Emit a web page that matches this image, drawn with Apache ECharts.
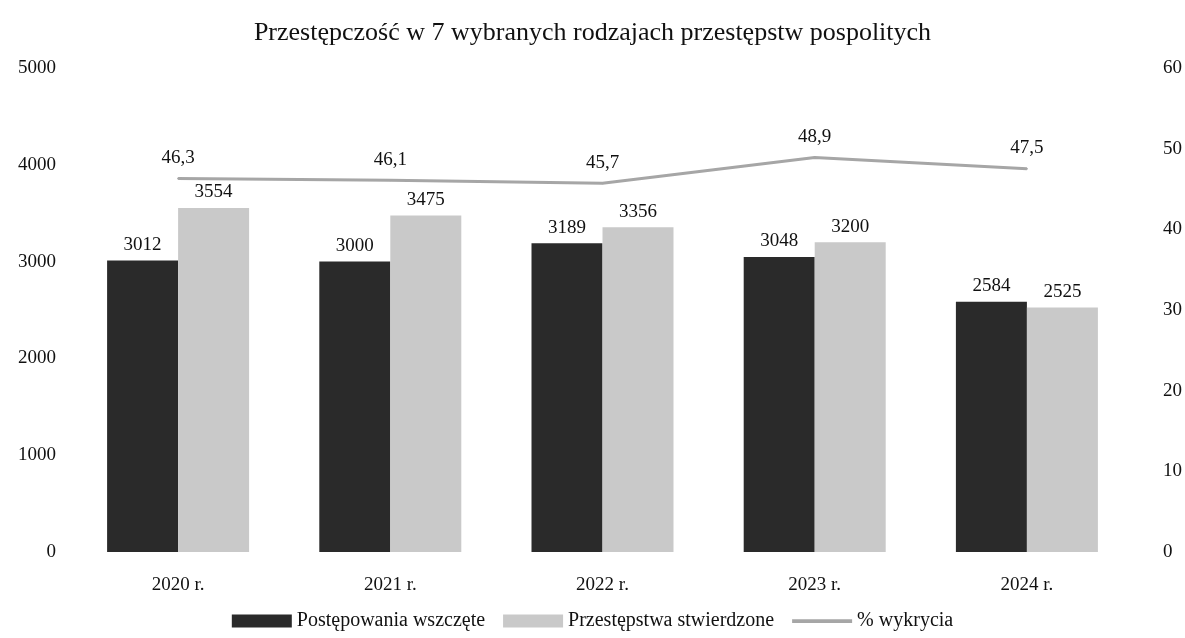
<!DOCTYPE html>
<html>
<head>
<meta charset="utf-8">
<script src="https://cdn.jsdelivr.net/npm/echarts@6/dist/echarts.min.js"></script>
<style>
  html, body { margin: 0; padding: 0; background: #fff; }
  #chart { width: 1185px; height: 638px; }
</style>
</head>
<body>
<div id="chart"></div>
<script>
const years = ['2020 r.', '2021 r.', '2022 r.', '2023 r.', '2024 r.']
const wszczete = [3012, 3000, 3189, 3048, 2584]
const stwierdzone = [3554, 3475, 3356, 3200, 2525]
const wykrycie = [46.3, 46.1, 45.7, 48.9, 47.5]

const font = '"Liberation Serif", "DejaVu Serif", serif'
const lineColor = '#a6a6a6'
const chart = echarts.init(document.getElementById('chart'))

const option = {
  backgroundColor: '#fff',
  textStyle: { fontFamily: font },
  title: {
    text: 'Przestępczość w 7 wybranych rodzajach przestępstw pospolitych',
    left: 'center',
    top: 15,
    textStyle: { fontFamily: font, fontSize: 26, fontWeight: 'normal', color: '#111' }
  },
  legend: {
    bottom: 2,
    left: 'center',
    itemWidth: 60,
    itemHeight: 13,
    itemGap: 18,
    textStyle: { fontFamily: font, fontSize: 20, color: '#111' },
    data: [
      { name: 'Postępowania wszczęte', icon: 'rect' },
      { name: 'Przestępstwa stwierdzone', icon: 'rect' },
      { name: '% wykrycia', icon: 'path://M0,0 L40,0 L40,2.5 L0,2.5 Z', itemStyle: { color: lineColor, opacity: 1 } }
    ]
  },
  grid: { left: 72, right: 47, top: 68, bottom: 86 },
  xAxis: {
    type: 'category',
    data: years,
    axisLine: { show: false },
    axisTick: { show: false },
    axisLabel: { fontFamily: font, fontSize: 19, color: '#111', margin: 24 }
  },
  yAxis: [
    {
      type: 'value', min: 0, max: 5000, interval: 1000,
      splitLine: { show: false },
      axisLabel: { fontFamily: font, fontSize: 19, color: '#111', margin: 16, formatter: v => String(v) }
    },
    {
      type: 'value', min: 0, max: 60, interval: 10,
      splitLine: { show: false },
      axisLabel: { fontFamily: font, fontSize: 19, color: '#111', margin: 30 }
    }
  ],
  series: [
    {
      name: 'Postępowania wszczęte',
      type: 'bar',
      data: wszczete,
      barWidth: 71,
      barGap: '0%',
      itemStyle: { color: '#2a2a2a' },
      label: { show: true, position: 'top', distance: 6, fontFamily: font, fontSize: 19, color: '#111' }
    },
    {
      name: 'Przestępstwa stwierdzone',
      type: 'bar',
      data: stwierdzone,
      barWidth: 71,
      itemStyle: { color: '#c9c9c9' },
      label: { show: true, position: 'top', distance: 6, fontFamily: font, fontSize: 19, color: '#111' }
    },
    {
      name: '% wykrycia',
      type: 'line',
      yAxisIndex: 1,
      data: wykrycie,
      symbol: 'circle',
      symbolSize: 2,
      showSymbol: true,
      lineStyle: { color: lineColor, width: 3 },
      itemStyle: { color: lineColor },
      label: {
        show: true, position: 'top', distance: 10,
        fontFamily: font, fontSize: 19, color: '#111',
        formatter: p => String(p.value).replace('.', ',')
      }
    }
  ]
}

chart.setOption(option)
</script>
</body>
</html>
